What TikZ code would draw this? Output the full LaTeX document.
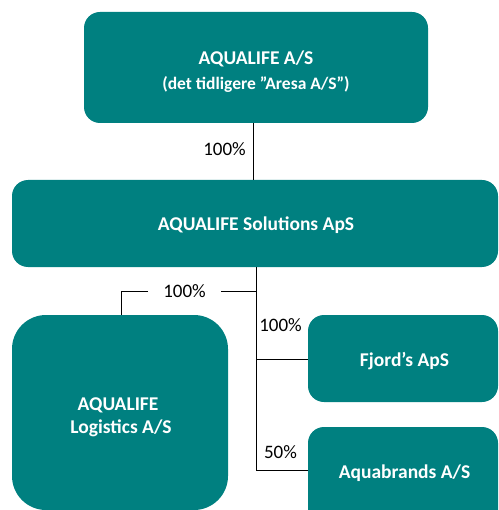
\documentclass[tikz,border=0pt]{standalone}
\usepackage{fontspec}
\setmainfont{Carlito}
\definecolor{teal}{RGB}{0,128,128}
\begin{document}
\begin{tikzpicture}[x=1pt,y=-1pt,
  box/.style={draw=none,fill=teal,rounded corners=16pt,inner sep=0pt,anchor=center},
  lbl/.style={text=white,font=\bfseries\fontsize{19.5}{23}\selectfont,inner sep=0pt,anchor=base},
  pct/.style={font=\fontsize{19}{22}\selectfont,inner sep=0pt,text=black,anchor=base},
  conn/.style={draw=black,line width=0.8pt}]
\useasboundingbox (0,0) rectangle (498,510);
\clip (0,0) rectangle (498,510);
\node[box,minimum width=344pt,minimum height=111pt] (top) at (256,67.5) {};
\node[lbl] (topt) at (256,65) {AQUALIFE A/S};
\node[lbl,font=\bfseries\fontsize{17.5}{21}\selectfont] (tops) at (256,90) {(det tidligere ”Aresa A/S”)};
\node[box,minimum width=486pt,minimum height=87pt] (sol) at (255,223.5) {};
\node[lbl] (solt) at (256,230) {AQUALIFE Solutions ApS};
\node[box,minimum width=216pt,minimum height=195pt,rounded corners=34pt] (log) at (120,412.5) {};
\node[lbl] (logt1) at (118,410) {AQUALIFE};
\node[lbl] (logt2) at (121,433) {Logistics A/S};
\node[box,minimum width=190pt,minimum height=87pt] (fj) at (403,358.5) {};
\node[lbl] (fjt) at (404.5,366) {Fjord’s ApS};
\node[box,minimum width=190pt,minimum height=100pt] (aq) at (403,477) {};
\node[lbl] (aqt) at (404.5,478) {Aquabrands A/S};
\coordinate (t1) at (253,123);
\coordinate (t2) at (253,180);
\draw[conn] (t1) -- (t2);
\node[pct] (p1) at (224.5,156) {100\%};
\coordinate (s1) at (256.5,267);
\coordinate (s2) at (256.5,470);
\coordinate (h1) at (256.5,291);
\coordinate (hr) at (221,291);
\coordinate (hl) at (148,291);
\coordinate (h2) at (121,291);
\coordinate (h3) at (121,315);
\coordinate (f1) at (256.5,359);
\coordinate (f2) at (308,359);
\coordinate (a2) at (308,470);
\draw[conn] (s1) -- (s2) -- (a2);
\draw[conn] (f1) -- (f2);
\draw[conn] (h1) -- (hr);
\draw[conn] (hl) -- (h2) -- (h3);
\node[pct] (p2) at (184.5,297) {100\%};
\node[pct] (p3) at (280.5,331) {100\%};
\node[pct] (p4) at (280.5,458) {50\%};
\end{tikzpicture}
\end{document}
